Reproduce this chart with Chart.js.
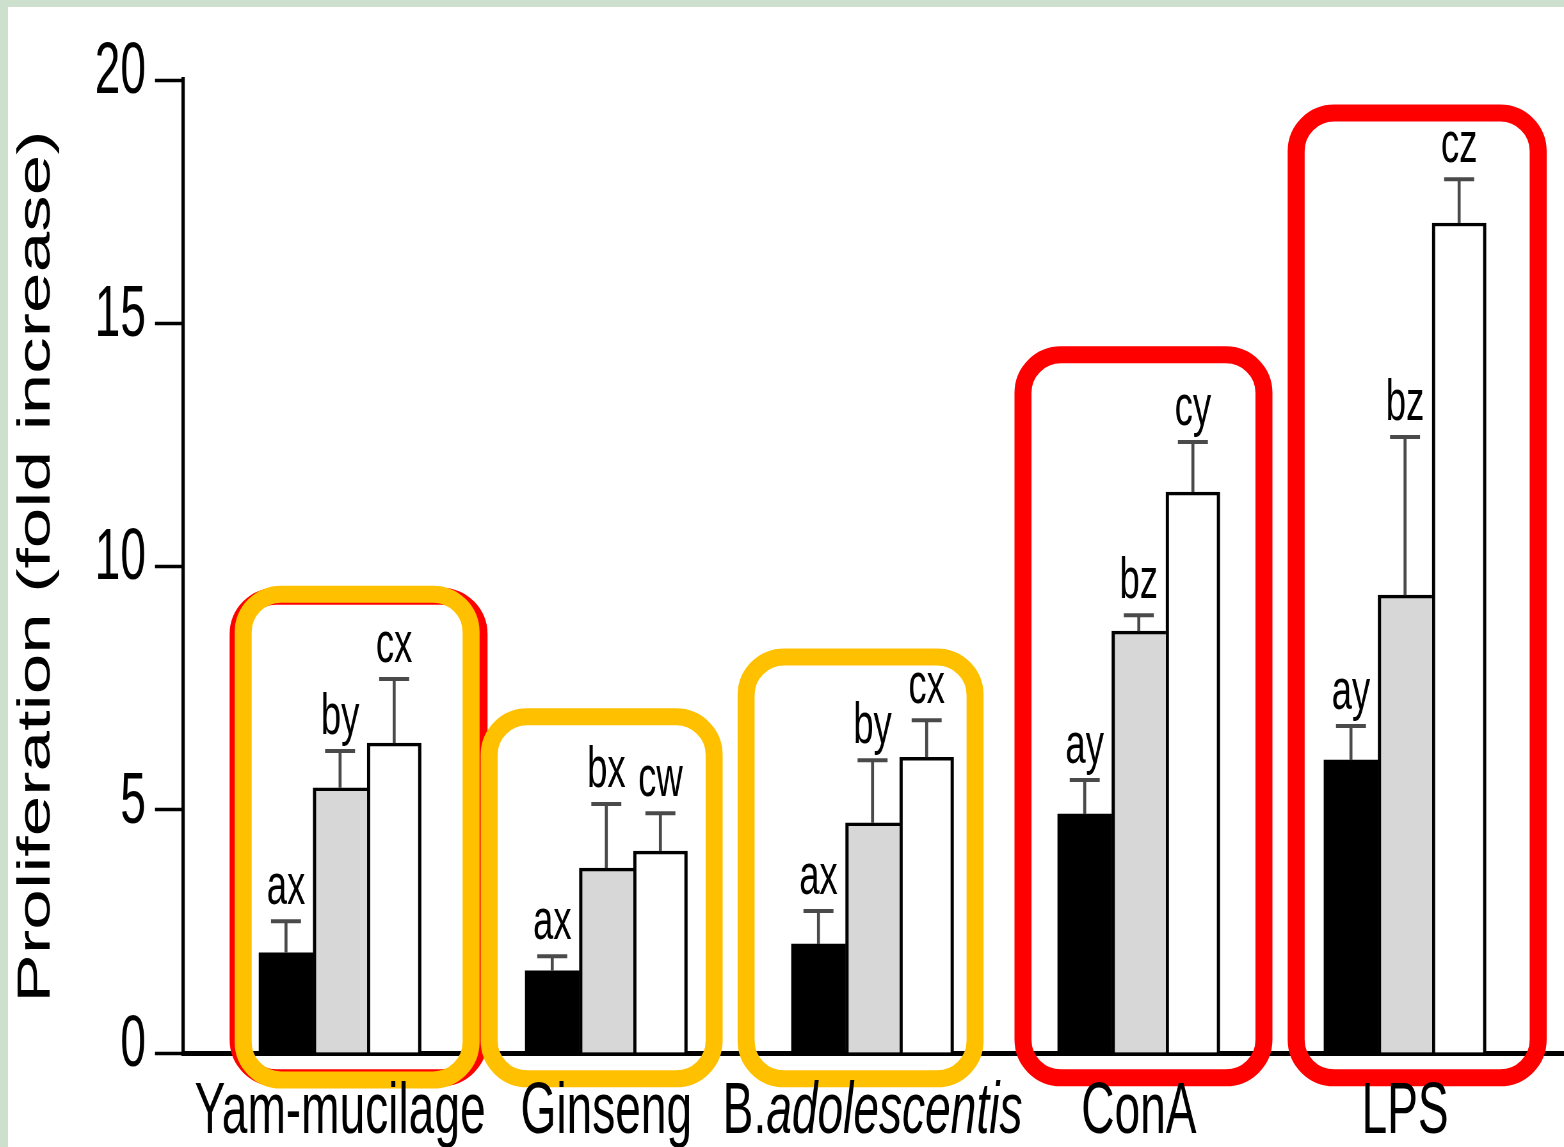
<!DOCTYPE html>
<html>
<head>
<meta charset="utf-8">
<script src="https://cdn.jsdelivr.net/npm/chart.js@4"></script>
<style>
  html, body { margin: 0; padding: 0; background: #cddfcd; overflow: hidden; }
</style>
</head>
<body>
<canvas id="plot" width="2431" height="1140"
  style="position:absolute;left:8px;top:7px;width:1556px;height:1140px;background:#ffffff;"></canvas>
<script>
// The canvas is drawn wider than it is shown, so every glyph and mark is
// squeezed horizontally by this factor, giving the narrow figure typography.
const SX = 1556 / 2431;

const categories = ['Yam-mucilage', 'Ginseng', 'B.adolescentis', 'ConA', 'LPS'];
const seriesNames = ['Series 1', 'Series 2', 'Series 3'];

const blackValues = [2.06, 1.69, 2.24, 4.91, 6.02];
const grayValues  = [5.45, 3.80, 4.73, 8.67, 9.41];
const whiteValues = [6.37, 4.15, 6.08, 11.53, 17.06];

const blackErrors = [0.65, 0.30, 0.68, 0.70, 0.70];
const grayErrors  = [0.76, 1.32, 1.29, 0.33, 3.25];
const whiteErrors = [1.32, 0.78, 0.76, 1.03, 0.90];

const blackLetters = ['ax', 'ax', 'ax', 'ay', 'ay'];
const grayLetters  = ['by', 'bx', 'by', 'bz', 'bz'];
const whiteLetters = ['cx', 'cw', 'cx', 'cy', 'cz'];

const yTicks = [0, 5, 10, 15, 20];

// Highlight frames around groups (x in category units, y in fold units)
const boxStart  = [-0.383, -0.364, 0.560, 1.525, 2.565, 3.591];
const boxEnd    = [0.522, 0.492, 1.405, 2.385, 3.470, 4.500];
const boxTop    = [9.39, 9.43, 6.91, 8.14, 14.35, 19.32];
const boxBottom = [-0.51, -0.555, -0.53, -0.53, -0.51, -0.51];
const boxColor  = ['#ff0000', '#ffc000', '#ffc000', '#ffc000', '#ff0000', '#ff0000'];

const FONT = '"Liberation Sans", Arial, "DejaVu Sans", sans-serif';

const toPoints = vals => vals.map((v, i) => ({ x: i, y: v }));

const errorBarsAndLetters = {
  id: 'errorBarsAndLetters',
  afterDatasetsDraw(chart) {
    const { ctx } = chart;
    const yScale = chart.scales.y;
    chart.data.datasets.forEach((ds, di) => {
      const meta = chart.getDatasetMeta(di);
      meta.data.forEach((bar, i) => {
        const top = yScale.getPixelForValue(ds.data[i].y + ds.errors[i]);
        ctx.save();
        ctx.strokeStyle = '#4a4a4a';
        ctx.lineWidth = 3 / SX;
        ctx.beginPath();
        ctx.moveTo(bar.x, bar.y);
        ctx.lineTo(bar.x, top);
        ctx.stroke();
        ctx.lineWidth = 4;
        ctx.beginPath();
        ctx.moveTo(bar.x - 15 / SX, top);
        ctx.lineTo(bar.x + 15 / SX, top);
        ctx.stroke();
        ctx.fillStyle = '#000';
        ctx.font = '57px ' + FONT;
        ctx.textAlign = 'center';
        ctx.textBaseline = 'alphabetic';
        ctx.fillText(ds.letters[i], bar.x, top - 17);
        ctx.restore();
      });
    });
  }
};

const highlightFrames = {
  id: 'highlightFrames',
  afterDraw(chart) {
    const { ctx } = chart;
    const xs = chart.scales.x, ys = chart.scales.y;
    ctx.save();
    ctx.scale(1 / SX, 1);   // draw in on-screen units so frames stay round
    const r = 38;
    boxStart.forEach((s, k) => {
      const x1 = xs.getPixelForValue(s) * SX;
      const x2 = xs.getPixelForValue(boxEnd[k]) * SX;
      const y1 = ys.getPixelForValue(boxTop[k]);
      const y2 = ys.getPixelForValue(boxBottom[k]);
      ctx.beginPath();
      ctx.moveTo(x1 + r, y1);
      ctx.arcTo(x2, y1, x2, y2, r);
      ctx.arcTo(x2, y2, x1, y2, r);
      ctx.arcTo(x1, y2, x1, y1, r);
      ctx.arcTo(x1, y1, x2, y1, r);
      ctx.closePath();
      ctx.lineWidth = 17;
      ctx.strokeStyle = boxColor[k];
      ctx.stroke();
    });
    ctx.restore();
  }
};

// Category names under each group; a genus-abbreviated name gets an italic species part
const categoryLabels = {
  id: 'categoryLabels',
  afterDraw(chart) {
    const { ctx } = chart;
    const xScale = chart.scales.x;
    const baseline = chart.chartArea.bottom + 80;
    ctx.save();
    ctx.fillStyle = '#000';
    ctx.textBaseline = 'alphabetic';
    ctx.textAlign = 'left';
    categories.forEach((name, i) => {
      const cx = xScale.getPixelForValue(i);
      const m = name.match(/^([A-Z]\.)(.+)$/);
      const parts = m ? [[m[1], ''], [m[2], 'italic ']] : [[name, '']];
      let total = 0;
      parts.forEach(([t, st]) => { ctx.font = st + '72px ' + FONT; total += ctx.measureText(t).width; });
      let x = cx - total / 2;
      parts.forEach(([t, st]) => {
        ctx.font = st + '72px ' + FONT;
        ctx.fillText(t, x, baseline);
        x += ctx.measureText(t).width;
      });
    });
    ctx.restore();
  }
};

new Chart(document.getElementById('plot'), {
  type: 'bar',
  data: {
    datasets: [
      {
        label: seriesNames[0],
        data: toPoints(blackValues),
        errors: blackErrors,
        letters: blackLetters,
        backgroundColor: '#000000',
        borderColor: '#000000',
        borderWidth: 0
      },
      {
        label: seriesNames[1],
        data: toPoints(grayValues),
        errors: grayErrors,
        letters: grayLetters,
        backgroundColor: '#d7d7d7',
        borderColor: '#000000',
        borderWidth: { top: 3.5, left: 3.3 / SX, right: 0, bottom: 0 }
      },
      {
        label: seriesNames[2],
        data: toPoints(whiteValues),
        errors: whiteErrors,
        letters: whiteLetters,
        backgroundColor: '#ffffff',
        borderColor: '#000000',
        borderWidth: { top: 3.5, left: 3.3 / SX, right: 3.3 / SX, bottom: 0 }
      }
    ]
  },
  options: {
    responsive: false,
    devicePixelRatio: 1,
    animation: false,
    events: [],
    barThickness: 84.5,
    layout: { padding: { top: 73, right: 0, bottom: 0, left: 0 } },
    plugins: { legend: { display: false }, tooltip: { enabled: false } },
    scales: {
      x: {
        type: 'linear',
        offset: false,
        min: -0.59,
        max: 4.597,
        grid: { display: false },
        ticks: { display: false },
        border: { display: true, color: '#000', width: 5 },
        afterFit(scale) { scale.height = 94; }
      },
      y: {
        min: yTicks[0],
        max: yTicks[yTicks.length - 1],
        afterBuildTicks(scale) { scale.ticks = yTicks.map(v => ({ value: v })); },
        ticks: {
          color: '#000',
          font: { family: FONT, size: 72 },
          padding: 14,
          labelOffset: -7
        },
        grid: {
          drawOnChartArea: false,
          drawTicks: true,
          tickLength: 28 / SX,
          tickColor: '#000',
          tickWidth: 3.5
        },
        border: { display: true, color: '#000', width: 3.3 / SX },
        title: {
          display: true,
          text: 'Proliferation (fold increase)',
          color: '#000',
          font: { family: FONT, size: 73 },
          padding: { top: 1, bottom: 0 }
        },
        afterFit(scale) { scale.width = 175 / SX; }
      }
    }
  },
  plugins: [errorBarsAndLetters, highlightFrames, categoryLabels]
});
</script>
</body>
</html>
